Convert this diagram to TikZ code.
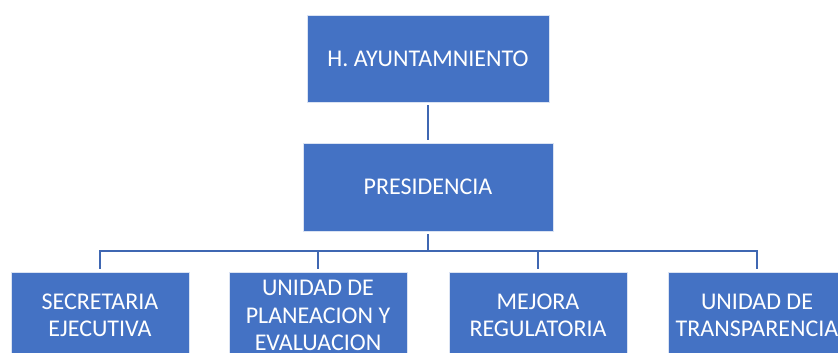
\documentclass[tikz,border=0pt]{standalone}
\usepackage{fontspec}
\setmainfont{Carlito}
\definecolor{boxblue}{HTML}{4472C4}
\definecolor{lineblue}{HTML}{3F67B2}
\begin{document}
\begin{tikzpicture}[x=1pt,y=-1pt,
  orgbox/.style={rectangle, fill=boxblue, draw=white!80!boxblue, line width=0.6pt,
    inner sep=0pt, text=white, align=center,
    font=\fontsize{24}{27.5}\selectfont},
  topbox/.style={orgbox, minimum width=242pt, minimum height=87pt},
  presbox/.style={orgbox, minimum width=250pt, minimum height=88pt},
  unitbox/.style={orgbox, minimum width=178pt, minimum height=87pt},
  conn/.style={draw=lineblue, line width=2pt, shorten >=3pt, shorten <=3pt}]
\useasboundingbox (0,0) rectangle (838,353);
\clip (0,0) rectangle (838,353);
\fill[white] (0,0) rectangle (838,353);
\node[topbox] (ayu) at (428,58.5) {H. AYUNTAMNIENTO};
\node[presbox] (pres) at (428,187) {PRESIDENCIA};
\node[unitbox] (b1) at (100,315.5) {SECRETARIA\\EJECUTIVA};
\node[unitbox] (b2) at (318,315.5) {UNIDAD DE\\PLANEACION Y\\EVALUACION};
\node[unitbox] (b3) at (538,315.5) {MEJORA\\REGULATORIA};
\node[unitbox] (b4) at (757,315.5) {UNIDAD DE\\TRANSPARENCIA};
\coordinate (hub) at (428,251);
\draw[conn] (ayu.south) -- (pres.north);
\draw[conn, shorten >=0pt] (pres.south) -- (hub);
\foreach \b in {b1,b2,b3,b4}
  \draw[conn, shorten <=0pt] (hub) -| (\b.north);
\end{tikzpicture}
\end{document}
